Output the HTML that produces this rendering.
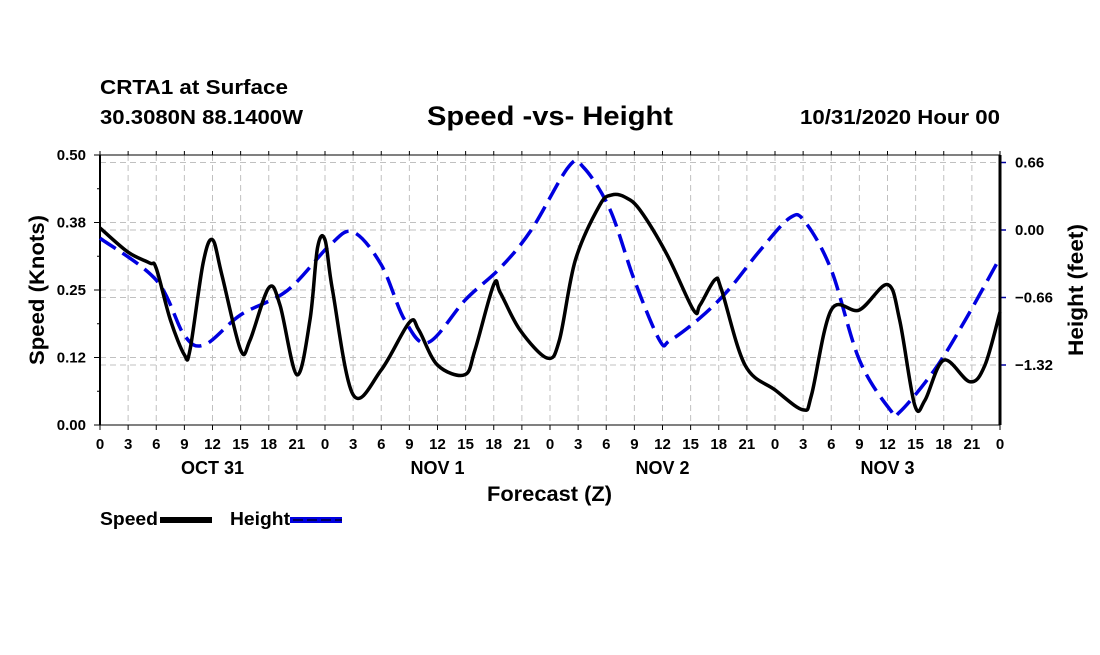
<!DOCTYPE html>
<html><head><meta charset="utf-8"><style>
body{margin:0;background:#fff}
svg text{font-family:"Liberation Sans",sans-serif;font-weight:bold;fill:#000}
</style></head><body>
<svg id="chart" width="1100" height="650" xmlns="http://www.w3.org/2000/svg">
<text x="100" y="94" font-size="20" textLength="188" lengthAdjust="spacingAndGlyphs">CRTA1 at Surface</text>
<text x="100" y="124" font-size="20" textLength="203" lengthAdjust="spacingAndGlyphs">30.3080N 88.1400W</text>
<text x="427" y="125" font-size="27" textLength="246" lengthAdjust="spacingAndGlyphs">Speed -vs- Height</text>
<text x="800" y="124" font-size="20" textLength="200" lengthAdjust="spacingAndGlyphs">10/31/2020 Hour 00</text>
<g id="grid"></g>
<g id="axes"></g>
<g id="series"></g>
<text transform="translate(44,290) rotate(-90)" font-size="21" text-anchor="middle" textLength="150" lengthAdjust="spacingAndGlyphs">Speed (Knots)</text>
<text transform="translate(1083,290) rotate(-90)" font-size="21" text-anchor="middle" textLength="132" lengthAdjust="spacingAndGlyphs">Height (feet)</text>
<text x="487" y="501" font-size="21" textLength="125" lengthAdjust="spacingAndGlyphs">Forecast (Z)</text>
<g>
<text x="100" y="525" font-size="18" textLength="58" lengthAdjust="spacingAndGlyphs">Speed</text>
<rect x="160" y="517" width="52" height="6" fill="#000"/>
<text x="230" y="525" font-size="18" textLength="60" lengthAdjust="spacingAndGlyphs">Height</text>
<rect x="290" y="517" width="52" height="6" fill="#0000e0"/>
<line x1="293" y1="520" x2="342" y2="520" stroke="#000060" stroke-width="2" stroke-dasharray="10,4"/>
</g>
</svg>
<script>
const xTickLabels=["0","3","6","9","12","15","18","21","0","3","6","9","12","15","18","21","0","3","6","9","12","15","18","21","0","3","6","9","12","15","18","21","0"];
const dayLabels=["OCT 31","NOV 1","NOV 2","NOV 3"];
const dayHours=[12,36,60,84];
const leftTicks=[0,0.125,0.25,0.375,0.5];
const leftTickLabels=["0.00","0.12","0.25","0.38","0.50"];
const rightTicks=[0.66,0,-0.66,-1.32];
const rightTickLabels=["0.66","0.00","\u22120.66","\u22121.32"];
const speedHours=[0,3,5.3,6,7.5,9,9.6,11,12,13,15,16,18,19.2,21,22.4,23.2,24,24.8,27,30,33,34,36,38.9,40,42,42.7,44.8,47.7,49,50.7,53.3,54.6,56,57.6,60.5,63.3,64,65.6,66.3,68.8,72,75,75.9,78,81,84,85.3,86.9,88,90,92.8,94.4,96];
const speedValues=[0.365,0.32,0.30,0.29,0.195,0.13,0.139,0.30,0.343,0.278,0.139,0.157,0.254,0.222,0.093,0.195,0.328,0.343,0.25,0.056,0.102,0.19,0.176,0.111,0.093,0.139,0.26,0.245,0.176,0.124,0.157,0.305,0.407,0.426,0.422,0.398,0.315,0.213,0.222,0.269,0.25,0.111,0.065,0.028,0.056,0.213,0.213,0.26,0.194,0.037,0.046,0.12,0.08,0.111,0.209];
const heightHours=[0,6,9,11.2,15,20,24.5,27,30,32.5,35,39,42.7,46,50,51.6,54.4,57,59.7,60.8,64,67,70.4,73.6,75.2,78,81,84.3,85.3,89,92.3,96];
const heightValues=[-0.08,-0.49,-1.03,-1.12,-0.83,-0.59,-0.15,-0.02,-0.34,-0.88,-1.10,-0.68,-0.37,0.0,0.62,0.61,0.2,-0.49,-1.08,-1.08,-0.86,-0.59,-0.2,0.12,0.08,-0.39,-1.27,-1.76,-1.78,-1.37,-0.88,-0.27];
const NS="http://www.w3.org/2000/svg";
const X0=100,X1=1000,Y0=425,Y1=155;
const xs=h=>X0+(X1-X0)*h/96;
const yl=v=>Y0-(Y0-Y1)*v/0.5;
const yr=v=>230-(67.5/0.66)*v;
function mk(tag,attrs,parent){const e=document.createElementNS(NS,tag);for(const k in attrs)e.setAttribute(k,attrs[k]);parent.appendChild(e);return e;}
const grid=document.getElementById('grid'),axes=document.getElementById('axes'),series=document.getElementById('series');
const gs={stroke:"#c0c0c0","stroke-width":1,"stroke-dasharray":"6,4"};
xTickLabels.forEach((l,i)=>{const x=xs(i*3);
 if(i>0&&i<32){const g=mk('line',Object.assign({x1:x,x2:x,y1:Y1,y2:Y0},gs),grid);}
 const t=mk('line',{x1:x,x2:x,y1:Y0,y2:Y0+5,stroke:"#000","stroke-width":1},axes);
 const t2=mk('line',{x1:x,x2:x,y1:Y1,y2:Y1-4,stroke:"#000","stroke-width":1},axes);
 const tx=mk('text',{x:x,y:449,"font-size":15,"text-anchor":"middle"},axes);tx.textContent=l;});
dayLabels.forEach((l,i)=>{const tx=mk('text',{x:xs(dayHours[i]),y:474,"font-size":18,"text-anchor":"middle"},axes);tx.textContent=l;});
leftTicks.forEach((v,i)=>{const y=yl(v);
 if(i>0&&i<4){const g=mk('line',Object.assign({x1:X0,x2:X1,y1:y,y2:y},gs),grid);}
 const t=mk('line',{x1:X0-6,x2:X0,y1:y,y2:y,stroke:"#000","stroke-width":1},axes);
 if(i<4){const m=mk('line',{x1:X0-3,x2:X0,y1:yl(v+0.0625),y2:yl(v+0.0625),stroke:"#000","stroke-width":1},axes);}
 const tx=mk('text',{x:86,y:y+5,"font-size":15,"text-anchor":"end"},axes);tx.textContent=leftTickLabels[i];});
rightTicks.forEach((v,i)=>{const y=yr(v);
 const g=mk('line',Object.assign({x1:X0,x2:X1,y1:y,y2:y},gs),grid);
 const t=mk('line',{x1:X1,x2:X1+6,y1:y,y2:y,stroke:"#0000a0","stroke-width":1.5},axes);
 const tx=mk('text',{x:1015,y:y+5,"font-size":15},axes);tx.textContent=rightTickLabels[i];});
const fr=mk('rect',{x:X0,y:Y1,width:X1-X0,height:Y0-Y1,fill:"none",stroke:"#000","stroke-width":1},axes);

const la=mk('line',{x1:X0,x2:X0,y1:Y1,y2:Y0,stroke:"#000","stroke-width":2},axes);
const ra=mk('line',{x1:X1,x2:X1,y1:Y1,y2:Y0,stroke:"#000","stroke-width":3},axes);
function smooth(pts){let d=`M${pts[0][0]},${pts[0][1]}`;for(let i=0;i<pts.length-1;i++){const p0=pts[Math.max(0,i-1)],p1=pts[i],p2=pts[i+1],p3=pts[Math.min(pts.length-1,i+2)];
 d+=` C${p1[0]+(p2[0]-p0[0])/6},${p1[1]+(p2[1]-p0[1])/6} ${p2[0]-(p3[0]-p1[0])/6},${p2[1]-(p3[1]-p1[1])/6} ${p2[0]},${p2[1]}`;}return d;}
const hp=mk('path',{d:smooth(heightHours.map((h,i)=>[xs(h),yr(heightValues[i])])),fill:"none",stroke:"#0000e0","stroke-width":3.5,"stroke-dasharray":"19,8"},series);

const sp=mk('path',{d:smooth(speedHours.map((h,i)=>[xs(h),yl(speedValues[i])])),fill:"none",stroke:"#000","stroke-width":3.5,"stroke-linejoin":"round"},series);

</script>
</body></html>
